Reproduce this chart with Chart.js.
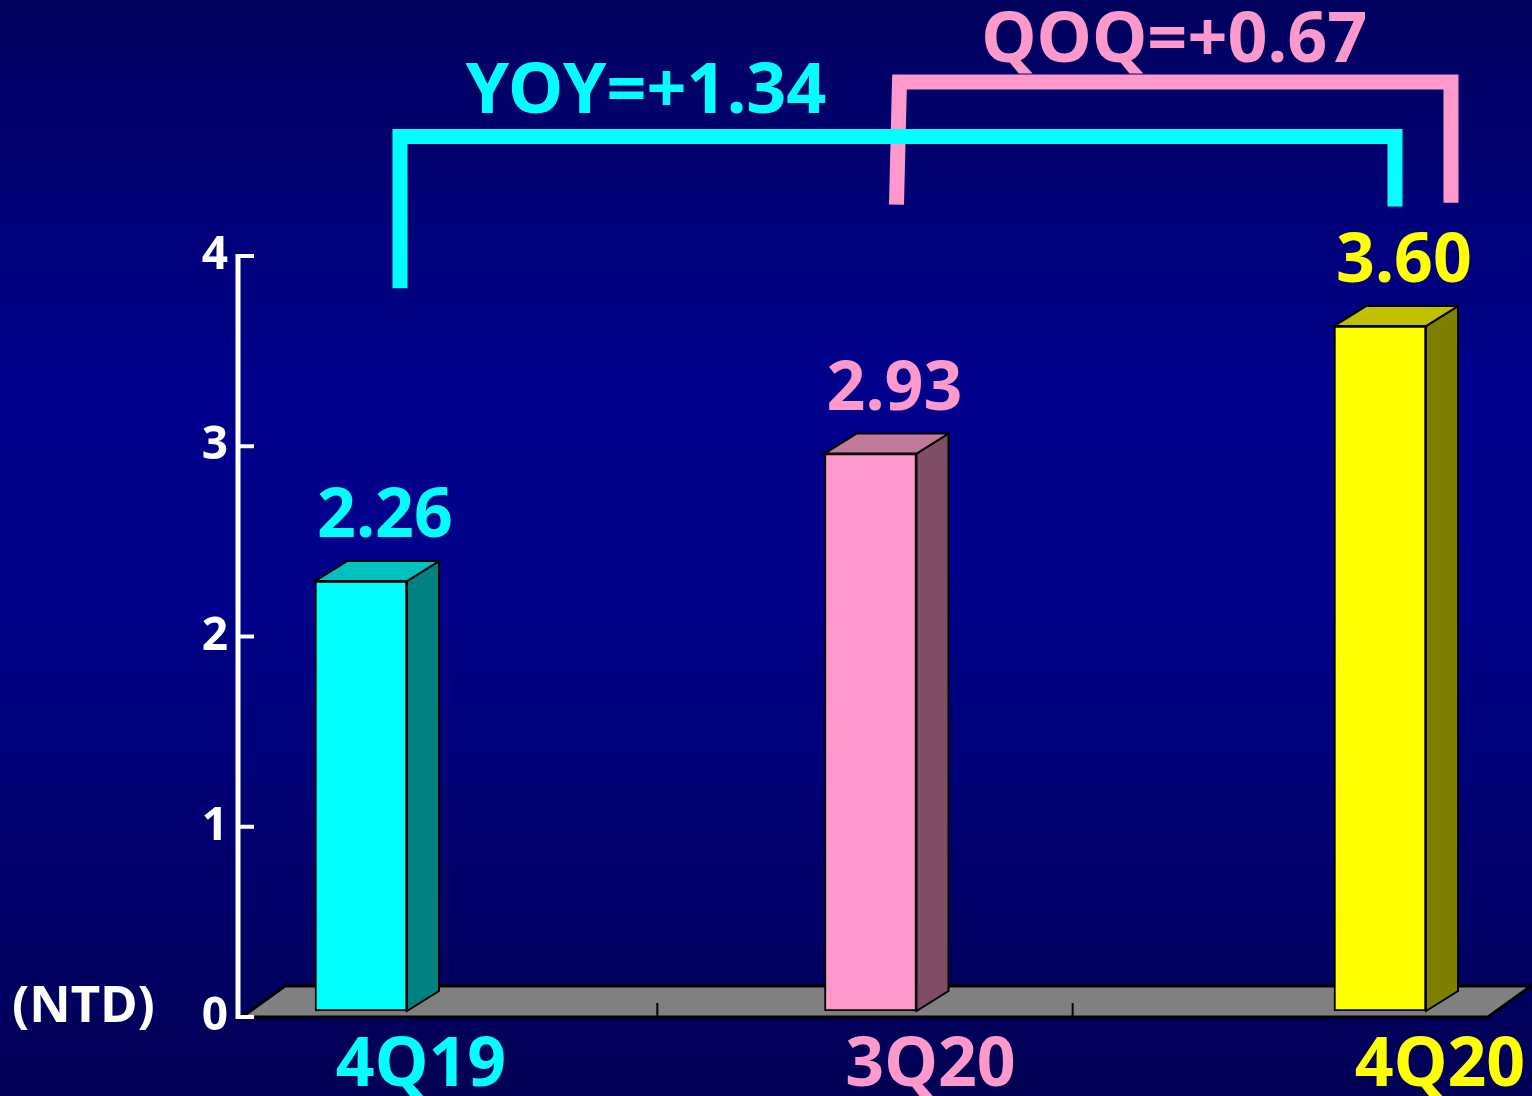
<!DOCTYPE html>
<html>
<head>
<meta charset="utf-8">
<script src="https://cdn.jsdelivr.net/npm/chart.js@4.4.1/dist/chart.umd.min.js"></script>
<style>
  html, body { margin: 0; padding: 0; background: #000070; }
  canvas { display: block; }
</style>
</head>
<body>
<canvas id="epsChart" width="1532" height="1096"></canvas>
<script>
// --- DATA ---
const quarters = ['4Q19', '3Q20', '4Q20'];
const epsValues = [2.26, 2.93, 3.60];
const yTicks = [0, 1, 2, 3, 4];
const yoyText = 'YOY=+1.34';
const qoqText = 'QOQ=+0.67';
const unitText = '(NTD)';

// --- COLOURS ---
const frontColors = ['#00FFFF', '#FF99CC', '#FFFF00'];
const topColors = ['#00C0C0', '#C0799A', '#C0C000'];
const sideColors = ['#008080', '#804D66', '#808000'];
const CYAN = '#00FFFF', PINK = '#FF99CC';
const FONT = '"Comic Sans MS", "Noto Sans", sans-serif';

const depthX = 32, depthY = 20, setBack = 6;

function poly(ctx, pts, fill) {
    ctx.beginPath();
    ctx.moveTo(pts[0][0], pts[0][1]);
    for (let i = 1; i < pts.length; i++) ctx.lineTo(pts[i][0], pts[i][1]);
    ctx.closePath();
    ctx.fillStyle = fill;
    ctx.fill();
    ctx.stroke();
}

const scenePlugin = {
    id: 'scene',
    beforeDraw(chart) {
        const { ctx, width, height } = chart;
        const g = ctx.createLinearGradient(0, 0, 0, height);
        g.addColorStop(0, '#00005E');
        g.addColorStop(0.35, '#00008C');
        g.addColorStop(0.55, '#000089');
        g.addColorStop(1, '#000054');
        ctx.save();
        ctx.fillStyle = g;
        ctx.fillRect(0, 0, width, height);
        ctx.restore();
    },
    beforeDatasetsDraw(chart) {
        const { ctx, chartArea: a } = chart;
        // floor
        const fl = a.left + 4, fr = a.right, fb = a.bottom, dx = 43, dy = 31;
        ctx.save();
        ctx.strokeStyle = '#000';
        ctx.lineWidth = 3;
        ctx.lineJoin = 'miter';
        poly(ctx, [[fl, fb], [fr, fb], [fr + dx, fb - dy], [fl + dx, fb - dy]], '#808080');
        ctx.lineWidth = 2;
        for (let k = 1; k < 3; k++) {
            const x = fl + (fr - fl) * k / 3;
            ctx.beginPath();
            ctx.moveTo(x, fb - 14);
            ctx.lineTo(x, fb);
            ctx.stroke();
        }
        ctx.restore();
        // bars sit a little behind the front edge of the floor
        ctx.save();
        ctx.translate(0, -setBack);
    },
    afterDatasetsDraw(chart) {
        const { ctx } = chart;
        const meta = chart.getDatasetMeta(0);
        ctx.strokeStyle = '#000';
        ctx.lineWidth = 2;
        ctx.lineJoin = 'miter';
        meta.data.forEach((bar, i) => {
            const w = bar.width;
            const l = bar.x - w / 2, r = bar.x + w / 2, t = bar.y, b = bar.base;
            poly(ctx, [[r, t], [r + depthX, t - depthY], [r + depthX, b - depthY], [r, b]], sideColors[i]);
            poly(ctx, [[l, t], [l + depthX, t - depthY], [r + depthX, t - depthY], [r, t]], topColors[i]);
            ctx.fillStyle = frontColors[i];
            ctx.font = 'bold 68px ' + FONT;
            ctx.textAlign = 'center';
            ctx.textBaseline = 'alphabetic';
            ctx.fillText(epsValues[i].toFixed(2), bar.x + 24, t - 44);
        });
        ctx.restore();
    },
    afterDraw(chart) {
        const { ctx, chartArea: a, scales } = chart;
        const y = scales.y;
        const bars = chart.getDatasetMeta(0).data;
        ctx.save();

        // y axis line with inward ticks
        ctx.strokeStyle = '#FFFFFF';
        ctx.lineWidth = 5;
        ctx.beginPath();
        ctx.moveTo(a.left, y.getPixelForValue(4) - 2);
        ctx.lineTo(a.left, y.getPixelForValue(0) + 2);
        ctx.stroke();
        ctx.lineWidth = 4;
        yTicks.forEach(v => {
            const py = y.getPixelForValue(v);
            ctx.beginPath();
            ctx.moveTo(a.left - 2, py);
            ctx.lineTo(a.left + 16, py);
            ctx.stroke();
        });

        // unit label
        ctx.fillStyle = '#FFFFFF';
        ctx.font = 'bold 51px ' + FONT;
        ctx.textAlign = 'left';
        ctx.textBaseline = 'alphabetic';
        ctx.fillText(unitText, 12, 1022);

        // brackets
        ctx.lineWidth = 15;
        ctx.lineCap = 'butt';
        ctx.lineJoin = 'miter';

        const pinkTop = y.getPixelForValue(4.915);
        ctx.strokeStyle = PINK;
        ctx.beginPath();
        ctx.moveTo(bars[1].x + 26, y.getPixelForValue(4.27));
        ctx.lineTo(bars[1].x + 29, pinkTop);
        ctx.lineTo(bars[2].x + 71, pinkTop);
        ctx.lineTo(bars[2].x + 71, y.getPixelForValue(4.28));
        ctx.stroke();

        const cyanTop = y.getPixelForValue(4.628);
        ctx.strokeStyle = CYAN;
        ctx.beginPath();
        ctx.moveTo(bars[0].x + 39, y.getPixelForValue(3.83));
        ctx.lineTo(bars[0].x + 39, cyanTop);
        ctx.lineTo(bars[2].x + 15, cyanTop);
        ctx.lineTo(bars[2].x + 15, y.getPixelForValue(4.26));
        ctx.stroke();

        ctx.font = 'bold 70px ' + FONT;
        ctx.textAlign = 'center';
        ctx.fillStyle = CYAN;
        ctx.fillText(yoyText, bars[0].x + 285, cyanTop - 24);
        ctx.fillStyle = PINK;
        ctx.fillText(qoqText, (bars[1].x + 27 + bars[2].x + 71) / 2, pinkTop - 20);

        ctx.restore();
    }
};

const ctx = document.getElementById('epsChart').getContext('2d');
new Chart(ctx, {
    type: 'bar',
    data: {
        datasets: [{
            data: epsValues.map((v, i) => ({ x: i, y: v })),
            backgroundColor: frontColors,
            borderColor: '#000000',
            borderWidth: 2,
            borderSkipped: false,
            barThickness: 92,
            clip: false
        }]
    },
    options: {
        responsive: false,
        animation: false,
        devicePixelRatio: 1,
        layout: { padding: { top: 256, right: 44, left: 0, bottom: 0 } },
        plugins: { legend: { display: false }, tooltip: { enabled: false } },
        scales: {
            x: {
                type: 'linear',
                offset: false,
                min: -0.2414,
                max: 2.212,
                grid: { display: false, drawTicks: false, offset: false },
                border: { display: false },
                afterBuildTicks: scale => { scale.ticks = quarters.map((q, i) => ({ value: i })); },
                afterFit: scale => { scale.height = 79; },
                ticks: {
                    autoSkip: false,
                    maxRotation: 0,
                    padding: 9,
                    labelOffset: 60,
                    callback: v => quarters[v],
                    color: c => frontColors[c.index],
                    font: { family: FONT, weight: 'bold', size: 68 }
                }
            },
            y: {
                min: 0,
                max: 4,
                grid: { display: false, drawTicks: false },
                border: { display: false },
                afterFit: scale => { scale.width = 238; },
                afterBuildTicks: scale => { scale.ticks = yTicks.map(v => ({ value: v })); },
                ticks: {
                    padding: 10,
                    color: '#FFFFFF',
                    font: { family: FONT, weight: 'bold', size: 46 }
                }
            }
        }
    },
    plugins: [scenePlugin]
});
</script>
</body>
</html>
